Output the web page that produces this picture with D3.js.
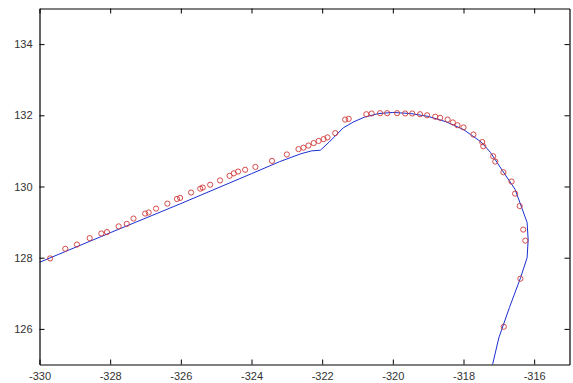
<!DOCTYPE html>
<html>
<head>
<meta charset="utf-8">
<script src="https://cdn.jsdelivr.net/npm/d3@7"></script>
<style>
  body { margin: 0; background: #fff; }
  svg { display: block; }
  .tick text { font-family: "Liberation Sans", Arial, sans-serif; font-size: 11px; fill: #333; }
</style>
</head>
<body>
<svg id="chart" width="573" height="383"></svg>
<script>
// tick labels
const xTicks = [-330, -328, -326, -324, -322, -320, -318, -316];
const yTicks = [126, 128, 130, 132, 134];

// fitted curve (blue)
const curveX = [-330, -328, -326, -324, -323.2, -322.6, -322.3, -322.05, -321.8, -321.6, -321.4, -321.1, -320.8, -320.4, -320,
  -319.5, -319, -318.5, -318, -317.5, -317.24, -316.9, -316.54, -316.35, -316.2, -316.17, -316.2, -316.38, -316.7, -317.0, -317.2];
const curveY = [127.87, 128.7, 129.52, 130.36, 130.7, 130.92, 131.0, 131.02, 131.25, 131.45, 131.65, 131.82, 131.95, 132.05, 132.08,
  132.05, 131.97, 131.82, 131.6, 131.25, 130.96, 130.45, 129.92, 129.4, 128.99, 128.5, 128.0, 127.45, 126.6, 125.75, 124.9];

// measured points (red circles)
const ptX = [-329.7, -329.27, -328.94, -328.58, -328.25, -328.09, -327.76, -327.53, -327.34, -327.01, -326.91, -326.7, -326.38,
  -326.11, -326.02, -325.71, -325.45, -325.38, -325.17, -324.89, -324.62, -324.5, -324.38, -324.18, -323.89, -323.42, -323.0,
  -322.67, -322.53, -322.39, -322.24, -322.1, -321.96, -321.85, -321.63, -321.35, -321.25, -320.75, -320.6, -320.36, -320.16,
  -319.88, -319.65, -319.45, -319.23, -319.03, -318.8, -318.66, -318.45, -318.3, -318.17, -318.0, -317.72, -317.47, -317.44,
  -317.16, -317.1, -316.87, -316.64, -316.54, -316.41, -316.31, -316.25, -316.39, -316.86];
const ptY = [127.98, 128.25, 128.37, 128.55, 128.68, 128.72, 128.88, 128.95, 129.1, 129.24, 129.27, 129.38, 129.52,
  129.65, 129.68, 129.83, 129.94, 129.97, 130.05, 130.17, 130.3, 130.37, 130.42, 130.47, 130.55, 130.72, 130.9,
  131.05, 131.09, 131.15, 131.22, 131.28, 131.33, 131.38, 131.5, 131.88, 131.9, 132.03, 132.05, 132.06, 132.06,
  132.06, 132.05, 132.05, 132.03, 132.0, 131.96, 131.93, 131.88, 131.8, 131.72, 131.66, 131.46, 131.25, 131.13,
  130.85, 130.7, 130.4, 130.14, 129.8, 129.45, 128.79, 128.48, 127.41, 126.06];

const plotL = 39.5, plotR = 569.5, plotT = 8.5, plotB = 364.5;

const svg = d3.select('#chart');

const x = d3.scaleLinear().domain([-330, -315]).range([plotL, plotR]);
const y = d3.scaleLinear().domain([125, 135]).range([plotB, plotT]);

svg.append('clipPath').attr('id', 'plot')
  .append('rect')
  .attr('x', plotL).attr('y', plotT)
  .attr('width', plotR - plotL).attr('height', plotB - plotT);

// curve
const line = d3.line()
  .x(function(d, i) { return x(curveX[i]); })
  .y(function(d, i) { return y(curveY[i]); });

svg.append('path')
  .datum(curveX)
  .attr('clip-path', 'url(#plot)')
  .attr('d', line)
  .attr('fill', 'none')
  .attr('stroke', '#1a2fd0')
  .attr('stroke-width', 1);

// points
svg.append('g')
  .attr('clip-path', 'url(#plot)')
  .selectAll('circle')
  .data(ptX)
  .enter()
  .append('circle')
  .attr('cx', function(d) { return x(d); })
  .attr('cy', function(d, i) { return y(ptY[i]); })
  .attr('r', 2.6)
  .attr('fill', 'none')
  .attr('stroke', '#d03838')
  .attr('stroke-width', 0.9);

// axes, ticks pointing inwards; plain hyphen for the minus sign
const plain = function(d) { return String(d); };
const bottomAxis = d3.axisBottom(x).tickValues(xTicks).tickSizeInner(-5).tickSizeOuter(0).tickPadding(7.5)
  .tickFormat(plain);
const leftAxis = d3.axisLeft(y).tickValues(yTicks).tickSizeInner(-5).tickSizeOuter(0).tickPadding(7)
  .tickFormat(plain);
const topAxis = d3.axisTop(x).tickValues(xTicks).tickSizeInner(-5).tickSizeOuter(0).tickFormat('');
const rightAxis = d3.axisRight(y).tickValues(yTicks).tickSizeInner(-5).tickSizeOuter(0).tickFormat('');

svg.append('g').attr('transform', 'translate(0,' + plotB + ')').call(bottomAxis);
svg.append('g').attr('transform', 'translate(' + plotL + ',0)').call(leftAxis);
svg.append('g').attr('transform', 'translate(0,' + plotT + ')').call(topAxis);
svg.append('g').attr('transform', 'translate(' + plotR + ',0)').call(rightAxis);

svg.selectAll('.domain').attr('stroke', '#000').attr('stroke-width', 1.2);
svg.selectAll('.tick line').attr('stroke', '#000');
svg.selectAll('.tick text').attr('fill', '#333');
</script>
</body>
</html>
